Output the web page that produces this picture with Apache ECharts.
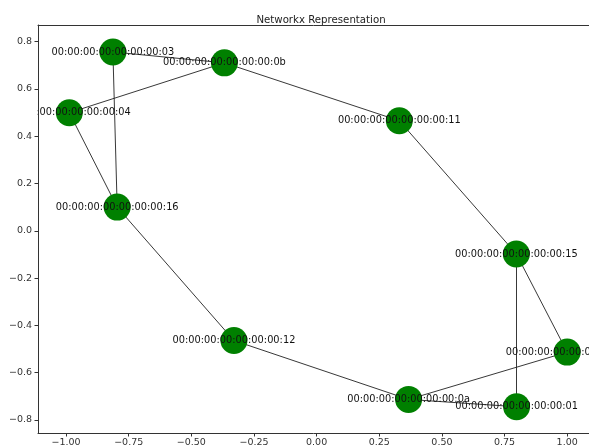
<!DOCTYPE html>
<html>
<head>
<meta charset="utf-8">
<script src="https://cdn.jsdelivr.net/npm/echarts@6/dist/echarts.min.js"></script>
<style>
  html, body { margin: 0; padding: 0; background: #fff; }
  #main { width: 589px; height: 448px; }
</style>
</head>
<body>
<div id="main"></div>
<script>
// nodes
var nodeNames = ['00:00:00:00:00:00:00:03', '00:00:00:00:00:00:00:0b', '00:00:00:00:00:00:00:04',
  '00:00:00:00:00:00:00:16', '00:00:00:00:00:00:00:11', '00:00:00:00:00:00:00:12',
  '00:00:00:00:00:00:00:15', '00:00:00:00:00:00:00:02', '00:00:00:00:00:00:00:0a',
  '00:00:00:00:00:00:00:01'];
var nodeX = [-0.813, -0.368, -0.987, -0.796, 0.330, -0.330, 0.797, 1.000, 0.367, 0.798];
var nodeY = [0.756, 0.710, 0.499, 0.100, 0.465, -0.464, -0.098, -0.513, -0.713, -0.744];
var edgeFrom = [0, 0, 1, 1, 2, 3, 4, 6, 6, 5, 8, 8];
var edgeTo   = [1, 3, 2, 4, 3, 5, 6, 7, 9, 8, 7, 9];
var xTicks = [-1, -0.75, -0.5, -0.25, 0, 0.25, 0.5, 0.75, 1];
var yTicks = [-0.8, -0.6, -0.4, -0.2, 0, 0.2, 0.4, 0.6, 0.8];

var chart = echarts.init(document.getElementById('main'));

var nodes = nodeNames.map(function (n, i) {
  return { name: n, value: [nodeX[i], nodeY[i]] };
});
var links = edgeFrom.map(function (s, i) {
  return { source: s, target: edgeTo[i] };
});

function minus(s) { return s.replace('-', '\u2212'); }

var font = 'DejaVu Sans';
var spine = { color: '#333', width: 1 };

chart.setOption({
  animation: false,
  title: {
    text: 'Networkx Representation',
    left: 316,
    textAlign: 'center',
    top: 10,
    textStyle: { fontFamily: font, fontSize: 10.2, fontWeight: 'normal', color: '#222' }
  },
  grid: { left: 38, top: 25, bottom: 14, right: 0 },
  // labels are clipped at the left of the axes, like in matplotlib
  graphic: [{
    type: 'rect', z: 5, silent: true,
    shape: { x: 0, y: 25, width: 37.5, height: 409 },
    style: { fill: '#fff' }
  }],
  xAxis: [{
    type: 'value', min: -1.112, max: 1.087, z: 10,
    splitLine: { show: false },
    axisLine: { onZero: false, lineStyle: spine },
    axisTick: { show: true, length: 3.5, customValues: xTicks, lineStyle: spine },
    axisLabel: {
      customValues: xTicks, fontFamily: font, fontSize: 9.5, color: '#333', margin: 5,
      formatter: function (v) { return minus(v.toFixed(2)); }
    }
  }, {
    // top spine only
    type: 'value', position: 'top', min: -1.112, max: 1.087, z: 10,
    splitLine: { show: false },
    axisLine: { show: true, onZero: false, lineStyle: spine },
    axisTick: { show: false },
    axisLabel: { show: false }
  }],
  yAxis: {
    type: 'value', min: -0.855, max: 0.87, z: 10,
    splitLine: { show: false },
    axisLine: { show: true, onZero: false, lineStyle: spine },
    axisTick: { show: true, length: 3.5, customValues: yTicks, lineStyle: spine },
    axisLabel: {
      customValues: yTicks, fontFamily: font, fontSize: 9.5, color: '#333', margin: 6,
      formatter: function (v) { return minus(v.toFixed(1)); }
    }
  },
  series: [{
    type: 'graph',
    coordinateSystem: 'cartesian2d',
    symbol: 'circle',
    symbolSize: 27,
    itemStyle: { color: '#008000' },
    lineStyle: { color: '#222', width: 1, opacity: 0.9 },
    label: {
      show: true, position: 'inside', fontFamily: font, fontSize: 9.8, color: '#111',
      formatter: '{b}'
    },
    emphasis: { disabled: true },
    data: nodes,
    links: links
  }]
});
</script>
</body>
</html>
